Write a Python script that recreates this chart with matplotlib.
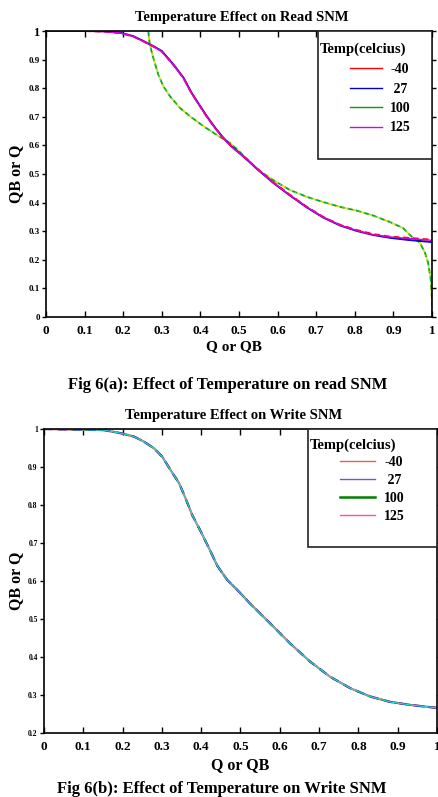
import matplotlib
matplotlib.use("Agg")
import matplotlib.pyplot as plt
from matplotlib.lines import Line2D
from matplotlib.patches import Rectangle

plt.rcParams['font.family'] = ['Liberation Serif', 'DejaVu Serif']
plt.rcParams['font.weight'] = 'bold'

# ---------------- data ----------------
temps = ["-40", " 27", "100", "125"]
legend_colors_read = ["#ff0000", "#0000cc", "#00a000", "#e000e0"]
legend_colors_write = ["#e86060", "#6060d8", "#008000", "#ff4fa0"]

# Read SNM: curve A (QB vs Q) for -40, 27, 125
read_a_q = [0.0, 0.10, 0.15, 0.192, 0.226, 0.252, 0.278, 0.300, 0.330, 0.356, 0.377,
            0.399, 0.416, 0.438, 0.459, 0.481, 0.503, 0.528, 0.556, 0.588, 0.632,
            0.676, 0.718, 0.762, 0.805, 0.847, 0.891, 0.935, 1.0]
read_a_m40 = [1.0, 1.0, 0.998, 0.993, 0.981, 0.964, 0.946, 0.929, 0.882, 0.836, 0.783,
              0.737, 0.702, 0.661, 0.626, 0.596, 0.571, 0.542, 0.508, 0.472, 0.427,
              0.385, 0.350, 0.322, 0.304, 0.290, 0.281, 0.277, 0.270]
read_a_27 = [1.0, 1.0, 0.999, 0.994, 0.982, 0.965, 0.947, 0.930, 0.883, 0.837, 0.784,
             0.738, 0.703, 0.662, 0.627, 0.596, 0.571, 0.541, 0.507, 0.470, 0.425,
             0.383, 0.348, 0.320, 0.301, 0.287, 0.277, 0.270, 0.262]
read_a_125 = [1.0, 1.0, 0.998, 0.993, 0.981, 0.964, 0.946, 0.928, 0.881, 0.835, 0.782,
              0.736, 0.701, 0.660, 0.625, 0.595, 0.571, 0.542, 0.508, 0.471, 0.426,
              0.384, 0.349, 0.321, 0.302, 0.288, 0.280, 0.275, 0.268]
# Read SNM: curve B (mirror curve)
read_b_q = [0.265, 0.269, 0.278, 0.291, 0.304, 0.321, 0.347, 0.373, 0.408, 0.442,
            0.477, 0.503, 0.528, 0.546, 0.588, 0.632, 0.676, 0.718, 0.762, 0.805,
            0.847, 0.891, 0.925, 0.948, 0.969, 0.982, 0.99, 0.997, 1.0, 1.0]
read_b_qb = [0.999, 0.952, 0.906, 0.847, 0.807, 0.772, 0.731, 0.702, 0.667, 0.637,
             0.608, 0.576, 0.543, 0.518, 0.479, 0.444, 0.420, 0.402, 0.385, 0.372,
             0.355, 0.332, 0.311, 0.280, 0.259, 0.224, 0.189, 0.129, 0.059, 0.0]

# Write SNM curve
write_q = [0.0, 0.153, 0.195, 0.229, 0.254, 0.28, 0.301, 0.322, 0.344, 0.36, 0.377,
           0.399, 0.42, 0.441, 0.466, 0.496, 0.524, 0.575, 0.626, 0.677, 0.728, 0.779,
           0.83, 0.88, 0.931, 1.0]
write_qb = [1.0, 0.997, 0.989, 0.980, 0.967, 0.949, 0.927, 0.892, 0.857, 0.818, 0.774,
            0.730, 0.686, 0.640, 0.603, 0.572, 0.541, 0.489, 0.436, 0.388, 0.348, 0.318,
            0.296, 0.282, 0.274, 0.266]

read_xticks = [0, 0.1, 0.2, 0.3, 0.4, 0.5, 0.6, 0.7, 0.8, 0.9, 1]
read_xticklabels = ["0", "0.1", "0.2", "0.3", "0.4", "0.5", "0.6", "0.7", "0.8", "0.9", "1"]
read_yticks = [0, 0.1, 0.2, 0.3, 0.4, 0.5, 0.6, 0.7, 0.8, 0.9, 1]
read_yticklabels = ["0", "0.1", "0.2", "0.3", "0.4", "0.5", "0.6", "0.7", "0.8", "0.9", "1"]
write_yticks = [0.2, 0.3, 0.4, 0.5, 0.6, 0.7, 0.8, 0.9, 1]
write_yticklabels = ["0.2", "0.3", "0.4", "0.5", "0.6", "0.7", "0.8", "0.9", "1"]

# ---------------- figure ----------------
W, H = 439, 797
fig = plt.figure(figsize=(W / 100, H / 100), dpi=100)


def frac(l, t, r, b):
    return [l / W, 1 - b / H, (r - l) / W, (b - t) / H]


def style_axes(ax, yticks, yticklabels, ysize):
    ax.set_xlim(0, 1)
    ax.set_xticks(read_xticks)
    ax.set_xticklabels(read_xticklabels, fontsize=9.5, fontweight='bold')
    ax.set_yticks(yticks)
    ax.set_yticklabels(yticklabels, fontsize=ysize, fontweight='bold')
    ax.tick_params(axis='x', direction='in', top=True, length=4, width=1, pad=6)
    ax.tick_params(axis='y', direction='out', left=True, length=3, width=1, pad=1.5)
    ax.tick_params(axis='y', which='both', right=True)
    for sp in ax.spines.values():
        sp.set_linewidth(1.2)
        sp.set_color('black')
    ax.grid(False)


def draw_legend(ax, box_x0, box_y0, title_y, entry_x, entry_y, colors, lw,
                hlen, tpad, lspace):
    rect = Rectangle((box_x0, box_y0), 1 - box_x0, 1 - box_y0, transform=ax.transAxes,
                     facecolor='white', edgecolor='#222222', linewidth=1.2, zorder=5)
    ax.add_patch(rect)
    ax.text(box_x0 + 0.003, title_y, "Temp(celcius)", transform=ax.transAxes,
            ha='left', va='center', fontsize=10.5, fontweight='bold', zorder=6)
    handles = [Line2D([], [], color=c, lw=l) for c, l in zip(colors, lw)]
    leg = ax.legend(handles, temps, loc='upper left',
                    bbox_to_anchor=(entry_x, entry_y), frameon=False,
                    prop={'size': 10, 'weight': 'bold'},
                    handlelength=hlen, handletextpad=tpad, labelspacing=lspace,
                    borderaxespad=0.0, borderpad=0.0)
    leg.set_zorder(6)
    return leg


# ---- top: read SNM ----
ax1 = fig.add_axes(frac(46, 31, 432, 317))
ax1.plot(read_b_q, read_b_qb, color='#e8e020', lw=1.4, zorder=2)
ax1.plot(read_b_q, read_b_qb, color='#00a830', lw=1.2, zorder=2.1, dashes=(3, 2))
ax1.plot(read_b_q, read_b_qb, color='#40d0d0', lw=0.8, zorder=2.2, dashes=(1, 4))
ax1.plot(read_a_q, read_a_27, color=legend_colors_read[1], lw=1.4, zorder=2.3)
ax1.plot(read_a_q, read_a_m40, color=legend_colors_read[0], lw=1.4, zorder=2.4, dashes=(3, 2))
ax1.plot(read_a_q, read_a_125, color=legend_colors_read[3], lw=1.0, zorder=2.5)
ax1.set_ylim(0, 1)
style_axes(ax1, read_yticks, read_yticklabels, 6.5)
ax1.get_yticklabels()[-1].set_fontsize(9)
ax1.set_xlabel("Q or QB", fontsize=11, fontweight='bold')
ax1.xaxis.set_label_coords(0.486, -0.08)
ax1.set_ylabel("QB or Q", fontsize=11.5, fontweight='bold')
ax1.yaxis.set_label_coords(-0.057, 0.5)
draw_legend(ax1, 0.705, 0.552, 0.937, 0.787, 0.887, legend_colors_read,
            [1.0, 1.0, 1.0, 1.0], 2.3, 0.6, 0.46)

fig.text(242 / W, 1 - 17 / H, "Temperature Effect on Read SNM", ha='center', va='center',
         fontsize=10.5, fontweight='bold')
fig.text(228 / W, 1 - 385 / H, "Fig 6(a): Effect of Temperature on read SNM", ha='center',
         va='center', fontsize=12, fontweight='bold')

# ---- bottom: write SNM ----
ax2 = fig.add_axes(frac(44, 429, 437, 733))
ax2.plot(write_q, write_qb, color=legend_colors_write[0], lw=1.6, zorder=2)
ax2.plot(write_q, write_qb, color='#1020c0', lw=1.5, zorder=2.1, dashes=(4, 3))
ax2.plot(write_q, write_qb, color='#107030', lw=1.4, zorder=2.2, dashes=(2, 5))
ax2.plot(write_q, write_qb, color='#9020a0', lw=1.0, zorder=2.3, dashes=(1, 6))
ax2.plot(write_q, write_qb, color='#30d0d0', lw=0.9, zorder=2.4)
ax2.set_ylim(0.2, 1)
style_axes(ax2, write_yticks, write_yticklabels, 5.5)
ax2.set_xlabel("Q or QB", fontsize=11.5, fontweight='bold')
ax2.xaxis.set_label_coords(0.50, -0.079)
ax2.set_ylabel("QB or Q", fontsize=11.5, fontweight='bold')
ax2.yaxis.set_label_coords(-0.051, 0.5)
draw_legend(ax2, 0.672, 0.612, 0.947, 0.753, 0.91, legend_colors_write,
            [1.0, 1.0, 1.8, 1.0], 2.5, 0.7, 0.36)

fig.text(234 / W, 1 - 416 / H, "Temperature Effect on Write SNM", ha='center', va='center',
         fontsize=10.5, fontweight='bold')
fig.text(222 / W, 1 - 789 / H, "Fig 6(b): Effect of Temperature on Write SNM", ha='center',
         va='center', fontsize=12, fontweight='bold')

fig.savefig("out.png", dpi=100, facecolor='white')
